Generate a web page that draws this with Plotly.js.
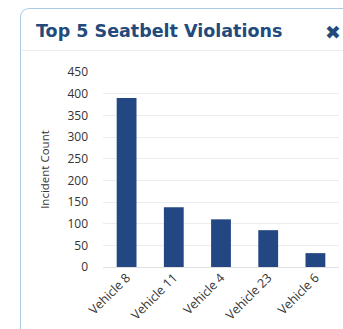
<!DOCTYPE html>
<html>
<head>
<meta charset="utf-8">
<script src="https://cdn.plot.ly/plotly-3.0.1.min.js"></script>
<style>
html,body{margin:0;padding:0;background:#fff;width:343px;height:329px;overflow:hidden;}
#panel{position:absolute;left:20px;top:8px;width:340px;height:340px;border:1.5px solid #a9cbe3;border-right:none;border-bottom:none;border-radius:9px 0 0 0;box-sizing:border-box;}
#sep{position:absolute;left:22px;top:50px;width:321px;height:1px;background:#ececec;}
#chart{position:absolute;left:0;top:0;width:343px;height:329px;}
</style>
</head>
<body>
<div id="panel"></div>
<div id="sep"></div>
<div id="chart"></div>
<script>
const categories = ["Vehicle 8", "Vehicle 11", "Vehicle 4", "Vehicle 23", "Vehicle 6"];
const incidentCounts = [390, 138, 110, 85, 32];
const yTicks = [0, 50, 100, 150, 200, 250, 300, 350, 400, 450];

const trace = {
  type: 'bar',
  x: categories,
  y: incidentCounts,
  marker: {color: '#234782'},
  hoverinfo: 'x+y'
};

const layout = {
  width: 343,
  height: 329,
  margin: {l: 103, r: 4, t: 72, b: 62},
  paper_bgcolor: 'rgba(0,0,0,0)',
  plot_bgcolor: 'rgba(0,0,0,0)',
  bargap: 0.58,
  showlegend: false,
  title: {
    text: 'Top 5 Seatbelt Violations',
    font: {family: 'DejaVu Sans', size: 17.5, color: '#244a7c', weight: 'bold'},
    x: 36 / 343, xref: 'container', xanchor: 'left',
    y: 1, yref: 'container', yanchor: 'top',
    pad: {t: 25}
  },
  xaxis: {
    type: 'category',
    tickangle: -45,
    tickfont: {family: 'Open Sans', size: 12.5, color: '#333'},
    showgrid: false,
    zeroline: false,
    showline: false,
    ticks: '',
    range: [-0.5, 4.5],
    automargin: false
  },
  yaxis: {
    range: [0, 450],
    tickvals: yTicks,
    ticktext: yTicks.map(String),
    tickfont: {family: 'Open Sans', size: 12, color: '#333'},
    gridcolor: '#ececec',
    gridwidth: 1,
    zeroline: true,
    zerolinecolor: '#e0e0e0',
    showline: false,
    ticks: '',
    ticklabelstandoff: 14,
    title: {text: 'Incident Count', font: {family: 'Open Sans', size: 11.5, color: '#333'}, standoff: 15},
    automargin: false
  },
  annotations: [{
    text: '✖',
    xref: 'paper', yref: 'paper',
    x: (333 - 103) / 236, y: (267 - 32) / 195,
    xanchor: 'center', yanchor: 'middle',
    showarrow: false,
    font: {family: 'DejaVu Sans', size: 19, color: '#244a7c'}
  }]
};

Plotly.newPlot('chart', [trace], layout, {displayModeBar: false, staticPlot: true});
</script>
</body>
</html>
